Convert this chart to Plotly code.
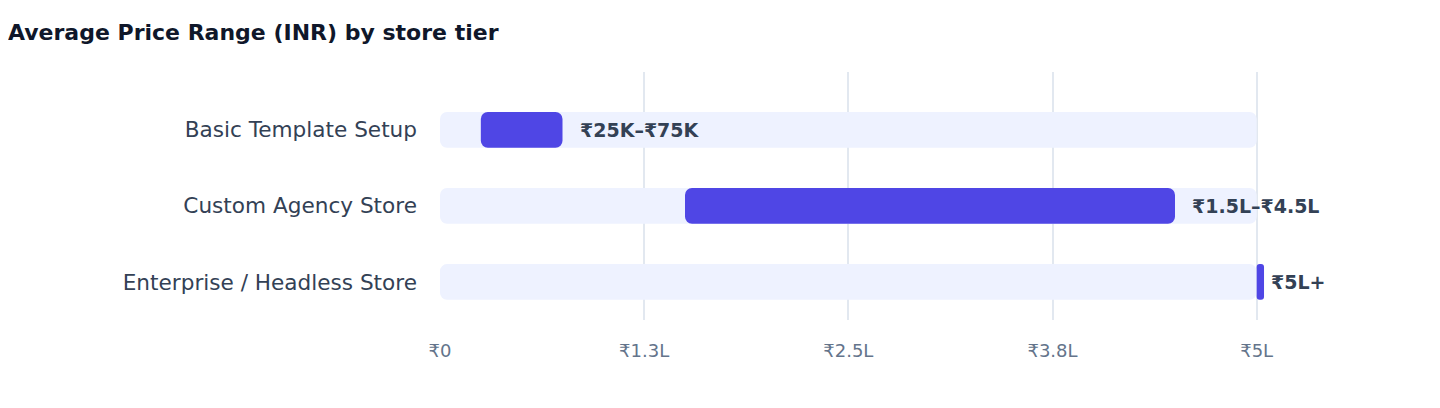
import plotly.graph_objects as go

# store tiers and their price ranges (INR)
tiers = ['Basic Template Setup', 'Custom Agency Store', 'Enterprise / Headless Store']
price_low = [25000, 150000, 500000]
price_high = [75000, 450000, 504500]
range_labels = ['₹25K–₹75K', '₹1.5L–₹4.5L', '₹5L+']
scale_max = 500000

tick_vals = [0, 125000, 250000, 375000, 500000]
tick_text = ['₹0', '₹1.3L', '₹2.5L', '₹3.8L', '₹5L']

FONT = 'DejaVu Sans'

fig = go.Figure()

# light background track for the full scale
fig.add_trace(go.Bar(
    y=tiers, x=[scale_max] * len(tiers), base=[0] * len(tiers),
    orientation='h', width=0.47,
    marker=dict(color='#EEF2FF', cornerradius=7, line=dict(width=0)),
    hoverinfo='skip', showlegend=False,
))

# actual price range
fig.add_trace(go.Bar(
    y=tiers, x=[h - l for l, h in zip(price_low, price_high)], base=price_low,
    orientation='h', width=0.47,
    marker=dict(color='#4F46E5', cornerradius=7, line=dict(width=0)),
    cliponaxis=False, hoverinfo='skip', showlegend=False,
))

for tier, hi, lab in zip(tiers, price_high, range_labels):
    fig.add_annotation(
        x=hi, y=tier, text='<b>' + lab + '</b>', showarrow=False,
        xanchor='left', xshift=15 if hi < scale_max else 5,
        font=dict(size=19, color='#334155', family=FONT),
    )

fig.update_layout(
    width=1440, height=408,
    barmode='overlay',
    paper_bgcolor='white', plot_bgcolor='white',
    margin=dict(l=432, r=126, t=64, b=96),
    font=dict(family=FONT, color='#334155'),
    title=dict(
        text='<b>Average Price Range (INR) by store tier</b>',
        x=0, xref='container', xanchor='left',
        y=0.941, yref='container', yanchor='middle',
        font=dict(size=22, color='#0F172A', family=FONT),
    ),
)

fig.update_xaxes(
    range=[0, 540000], tickvals=tick_vals, ticktext=tick_text,
    showgrid=True, gridcolor='#E2E8F0', gridwidth=1.5,
    zeroline=False, showline=False, ticks='',
    ticklabelstandoff=18,
    tickfont=dict(size=18, color='#64748B', family=FONT),
)
fig.update_yaxes(
    range=[2.5, -0.76], showgrid=False, zeroline=False, showline=False,
    ticks='', ticklabelstandoff=22,
    tickfont=dict(size=21.6, color='#334155', family=FONT),
)

fig.write_html('out.html')
